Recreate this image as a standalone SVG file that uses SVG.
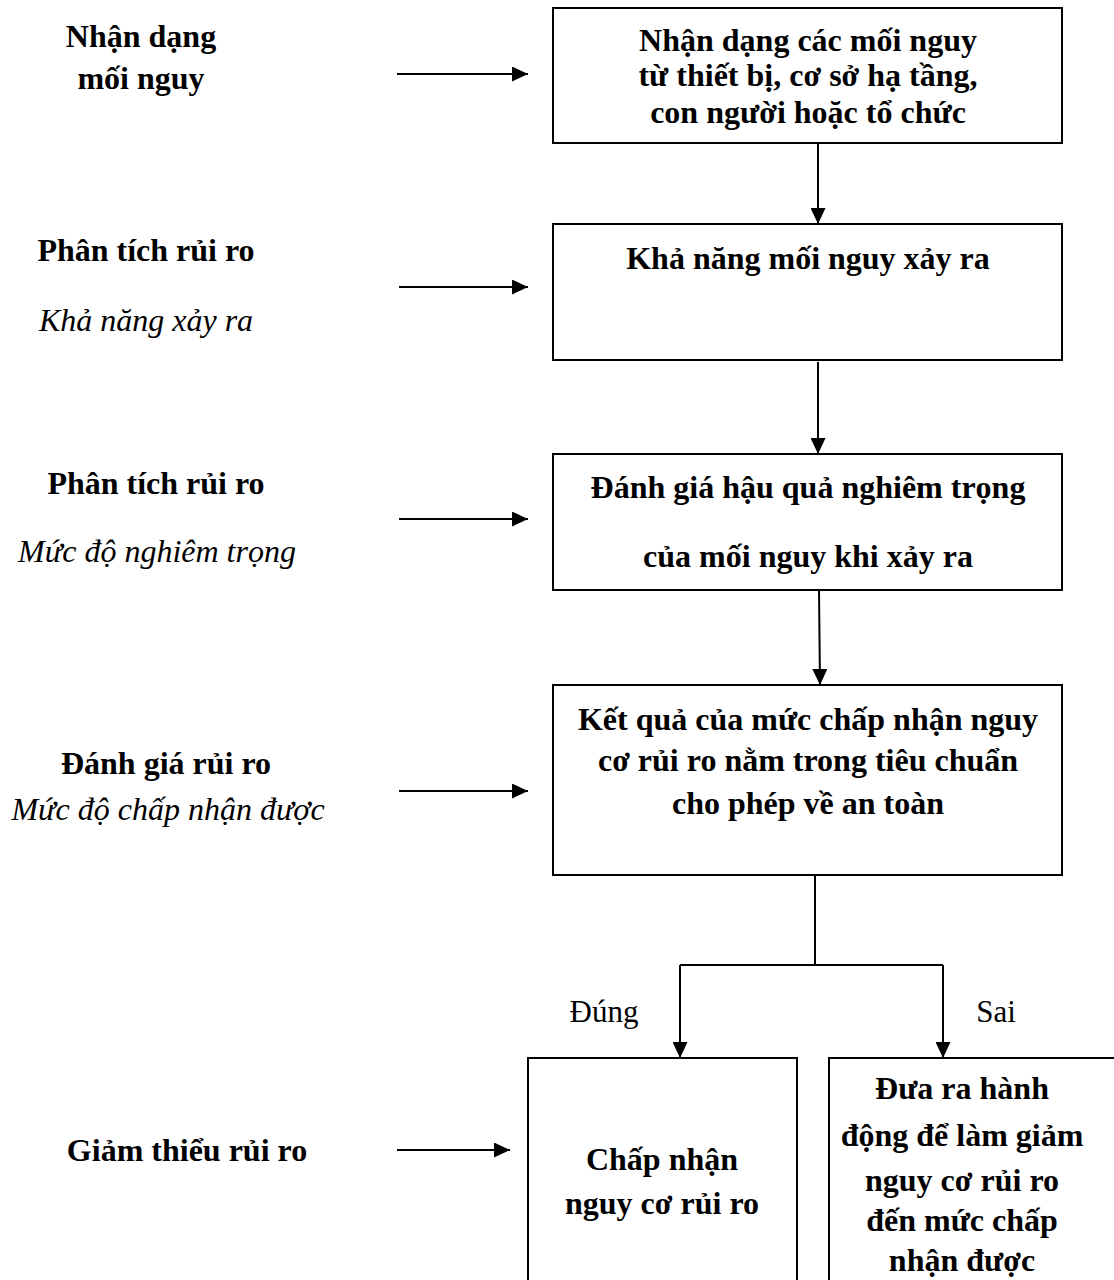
<svg xmlns="http://www.w3.org/2000/svg" width="1114" height="1280" viewBox="0 0 1114 1280">
<style>
.box{fill:#fff;stroke:#000;stroke-width:2}
.t{font-family:"Liberation Serif","Times New Roman",serif;font-size:32px;font-weight:bold;fill:#000;text-anchor:middle}
.i{font-family:"Liberation Serif","Times New Roman",serif;font-size:32px;font-style:italic;fill:#000;text-anchor:middle}
.n{font-family:"Liberation Serif","Times New Roman",serif;font-size:31px;fill:#000;text-anchor:middle}
.c{stroke:#000;stroke-width:2;fill:none}
</style>
<defs>
<marker id="ah" viewBox="0 0 10 10" refX="10" refY="5" markerWidth="8" markerHeight="7.5" orient="auto" markerUnits="strokeWidth" preserveAspectRatio="none">
<path d="M0,0 L10,5 L0,10 z" fill="#000"/>
</marker>
</defs>
<rect width="1114" height="1280" fill="#fff"/>
<g id="labels">
<text class="t" x="141" y="47">Nhận dạng</text>
<text class="t" x="141" y="89">mối nguy</text>
<text class="t" x="146" y="261">Phân tích rủi ro</text>
<text class="i" x="146" y="331">Khả năng xảy ra</text>
<text class="t" x="156" y="494">Phân tích rủi ro</text>
<text class="i" x="157" y="562">Mức độ nghiêm trọng</text>
<text class="t" x="166" y="774">Đánh giá rủi ro</text>
<text class="i" x="168" y="820">Mức độ chấp nhận được</text>
<text class="t" x="187" y="1161">Giảm thiểu rủi ro</text>
</g>
<g id="node1">
<rect class="box" x="553" y="8" width="509" height="135"/>
<text class="t" x="808" y="51">Nhận dạng các mối nguy</text>
<text class="t" x="808" y="86">từ thiết bị, cơ sở hạ tầng,</text>
<text class="t" x="808" y="123">con người hoặc tổ chức</text>
</g>
<g id="node2">
<rect class="box" x="553" y="224" width="509" height="136"/>
<text class="t" x="808" y="269">Khả năng mối nguy xảy ra</text>
</g>
<g id="node3">
<rect class="box" x="553" y="454" width="509" height="136"/>
<text class="t" x="808" y="498">Đánh giá hậu quả nghiêm trọng</text>
<text class="t" x="808" y="567">của mối nguy khi xảy ra</text>
</g>
<g id="node4">
<rect class="box" x="553" y="685" width="509" height="190"/>
<text class="t" x="808" y="730">Kết quả của mức chấp nhận nguy</text>
<text class="t" x="808" y="771">cơ rủi ro nằm trong tiêu chuẩn</text>
<text class="t" x="808" y="814">cho phép về an toàn</text>
</g>
<g id="node5">
<rect class="box" x="528" y="1058" width="269" height="240"/>
<text class="t" x="662" y="1170">Chấp nhận</text>
<text class="t" x="662" y="1214">nguy cơ rủi ro</text>
</g>
<g id="node6">
<rect class="box" x="829" y="1058" width="300" height="240"/>
<text class="t" x="962" y="1099">Đưa ra hành</text>
<text class="t" x="962" y="1146">động để làm giảm</text>
<text class="t" x="962" y="1191">nguy cơ rủi ro</text>
<text class="t" x="962" y="1231">đến mức chấp</text>
<text class="t" x="962" y="1271">nhận được</text>
</g>
<g id="connectors">
<line class="c" x1="397" y1="74" x2="528" y2="74" marker-end="url(#ah)"/>
<line class="c" x1="399" y1="287" x2="528" y2="287" marker-end="url(#ah)"/>
<line class="c" x1="399" y1="519" x2="528" y2="519" marker-end="url(#ah)"/>
<line class="c" x1="399" y1="791" x2="528" y2="791" marker-end="url(#ah)"/>
<line class="c" x1="397" y1="1150" x2="510" y2="1150" marker-end="url(#ah)"/>
<line class="c" x1="818" y1="143" x2="818" y2="224" marker-end="url(#ah)"/>
<line class="c" x1="818" y1="362" x2="818" y2="454" marker-end="url(#ah)"/>
<line class="c" x1="819" y1="590" x2="820" y2="685" marker-end="url(#ah)"/>
<polyline class="c" points="815,875 815,965"/>
<polyline class="c" points="680,965 943,965"/>
<line class="c" x1="680" y1="965" x2="680" y2="1058" marker-end="url(#ah)"/>
<line class="c" x1="943" y1="965" x2="943" y2="1058" marker-end="url(#ah)"/>
<text class="n" x="604" y="1022">Đúng</text>
<text class="n" x="996" y="1022">Sai</text>
</g>
</svg>
